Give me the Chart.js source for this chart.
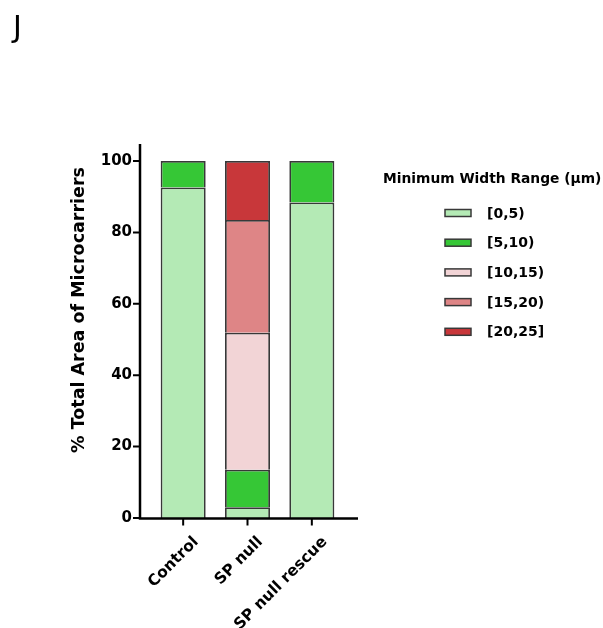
<!DOCTYPE html>
<html>
<head>
<meta charset="utf-8">
<script src="https://cdn.jsdelivr.net/npm/chart.js@4/dist/chart.umd.min.js"></script>
<style>
  body { margin: 0; background: #fff; }
  #wrap { width: 603px; height: 628px; position: relative; }
</style>
</head>
<body>
<div id="wrap"><canvas id="chart"></canvas></div>
<script>
// data
const categories = ['Control', 'SP null', 'SP null rescue'];
const rangeLabels = ['[0,5)', '[5,10)', '[10,15)', '[15,20)', '[20,25]'];
const range0to5 = [92.6, 3.0, 88.4];
const range5to10 = [7.4, 10.5, 11.6];
const range10to15 = [null, 38.4, null];
const range15to20 = [null, 31.6, null];
const range20to25 = [null, 16.5, null];
const yTicks = [0, 20, 40, 60, 80, 100];

const colors = ['#b4eab5', '#36c736', '#f2d4d6', '#de8586', '#c8373a'];
const FONT = '"DejaVu Sans", "Liberation Sans", Arial, sans-serif';

const series = [range0to5, range5to10, range10to15, range15to20, range20to25];
const datasets = series.map((vals, i) => ({
  label: rangeLabels[i],
  data: vals,
  backgroundColor: colors[i],
  borderColor: '#383838',
  borderWidth: 1.8,
  borderSkipped: 'start',
  barPercentage: 0.7,
  categoryPercentage: 1.0
}));

// axes, title, panel letter and legend drawn by hand at the reference positions
const decorations = {
  id: 'decorations',
  afterDraw(chart) {
    const ctx = chart.ctx;
    const x = chart.scales.x, y = chart.scales.y;
    const axisX = 140, axisY = y.getPixelForValue(0) + 0.5;
    ctx.save();
    ctx.strokeStyle = '#000';
    ctx.lineWidth = 2.5;
    ctx.beginPath();
    ctx.moveTo(axisX, 144);
    ctx.lineTo(axisX, axisY + 1.2);
    ctx.moveTo(axisX - 1.2, axisY);
    ctx.lineTo(358, axisY);
    ctx.stroke();
    ctx.lineWidth = 2;
    ctx.beginPath();
    yTicks.forEach(v => {
      const py = y.getPixelForValue(v);
      ctx.moveTo(axisX - 7, py);
      ctx.lineTo(axisX, py);
    });
    categories.forEach((c, i) => {
      const px = x.getPixelForValue(i);
      ctx.moveTo(px, axisY);
      ctx.lineTo(px, axisY + 7);
    });
    ctx.stroke();

    // y title
    ctx.fillStyle = '#000';
    ctx.font = 'bold 17.5px ' + FONT;
    ctx.textAlign = 'center';
    ctx.textBaseline = 'alphabetic';
    ctx.translate(84, 310);
    ctx.rotate(-Math.PI / 2);
    ctx.fillText('% Total Area of Microcarriers', 0, 0);
    ctx.setTransform(1, 0, 0, 1, 0, 0);

    // panel letter
    ctx.font = '30px ' + FONT;
    ctx.textAlign = 'left';
    ctx.fillText('J', 13, 37);

    // legend
    ctx.font = 'bold 13.8px ' + FONT;
    ctx.textBaseline = 'middle';
    ctx.fillText('Minimum Width Range (\u00b5m)', 383, 179);
    ctx.font = 'bold 14px ' + FONT;
    chart.data.datasets.forEach((ds, i) => {
      const cy = 213 + i * 29.7;
      ctx.fillStyle = ds.backgroundColor;
      ctx.fillRect(445, cy - 3.5, 26, 7);
      ctx.strokeStyle = '#383838';
      ctx.lineWidth = 1.5;
      ctx.strokeRect(445, cy - 3.5, 26, 7);
      ctx.fillStyle = '#000';
      ctx.fillText(ds.label, 487, cy + 1);
    });
    ctx.restore();
  }
};

new Chart(document.getElementById('chart'), {
  type: 'bar',
  data: { labels: categories, datasets: datasets },
  options: {
    responsive: true,
    maintainAspectRatio: false,
    animation: false,
    layout: { padding: { left: 0, top: 161, right: 259, bottom: 0 } },
    plugins: { legend: { display: false }, tooltip: { enabled: false } },
    scales: {
      x: {
        stacked: true,
        grid: { display: false },
        border: { display: false },
        ticks: {
          color: '#000',
          font: { family: FONT, size: 15.5, weight: 'bold' },
          minRotation: 45,
          maxRotation: 45,
          padding: 7,
          labelOffset: 13
        },
        afterFit(scale) { scale.height = 110; }
      },
      y: {
        stacked: true,
        min: 0,
        max: 100,
        grid: { display: false },
        border: { display: false },
        ticks: {
          stepSize: 20,
          color: '#000',
          font: { family: FONT, size: 15, weight: 'bold' },
          padding: 11
        },
        afterFit(scale) { scale.width = 151; }
      }
    }
  },
  plugins: [decorations]
});
</script>
</body>
</html>
